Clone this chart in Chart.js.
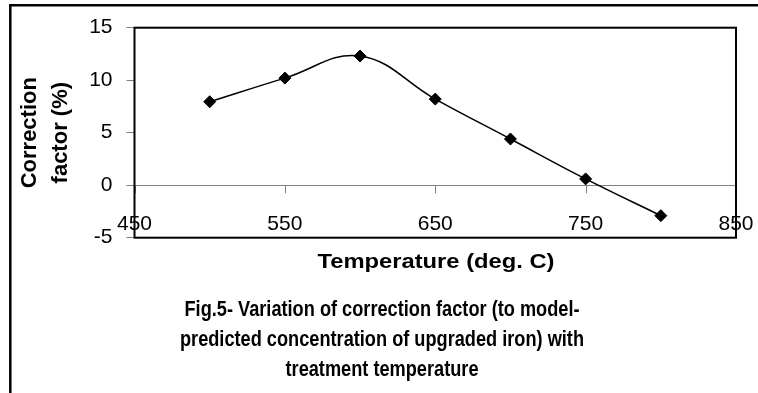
<!DOCTYPE html>
<html>
<head>
<meta charset="utf-8">
<script src="https://cdn.jsdelivr.net/npm/chart.js@4.4.1/dist/chart.umd.min.js"></script>
<style>
  html, body { margin: 0; padding: 0; background: #fff; }
  canvas { display: block; }
</style>
</head>
<body>
<canvas id="chart" width="758" height="393"></canvas>
<script>
const temperatures = [500, 550, 600, 650, 700, 750, 800];
const correctionFactor = [7.95, 10.2, 12.3, 8.2, 4.4, 0.6, -2.9];
const xTicks = [450, 550, 650, 750, 850];
const yAxisTitle = ['Correction', 'factor (%)'];
const xAxisTitle = 'Temperature (deg. C)';
const caption = [
    'Fig.5- Variation of correction factor (to model-',
    'predicted concentration of upgraded iron) with',
    'treatment temperature'
];

const FONT = '"Liberation Sans", Arial, Helvetica, sans-serif';

// draw text squeezed/stretched horizontally around its centre
function drawStretched(ctx, text, cx, y, scaleX) {
    ctx.save();
    ctx.translate(cx, y);
    ctx.scale(scaleX, 1);
    ctx.fillText(text, 0, 0);
    ctx.restore();
}

const decorations = {
    id: 'decorations',
    beforeDatasetsDraw(chart) {
        const ctx = chart.ctx;
        const area = chart.chartArea;
        const x = chart.scales.x;
        const y0 = chart.scales.y.getPixelForValue(0);
        ctx.save();
        ctx.strokeStyle = '#808080';
        ctx.lineWidth = 1;
        ctx.beginPath();
        ctx.moveTo(area.left, Math.round(y0) + 0.5);
        ctx.lineTo(area.right, Math.round(y0) + 0.5);
        xTicks.forEach(t => {
            const px = Math.round(x.getPixelForValue(t)) + 0.5;
            ctx.moveTo(px, y0);
            ctx.lineTo(px, y0 + 8);
        });
        ctx.stroke();
        ctx.restore();
    },
    afterDraw(chart) {
        const ctx = chart.ctx;
        const area = chart.chartArea;
        const x = chart.scales.x;
        ctx.save();

        // plot area box
        ctx.strokeStyle = '#000';
        ctx.lineWidth = 2;
        ctx.strokeRect(area.left, area.top, area.right - area.left, area.bottom - area.top);

        // x tick labels (they sit inside the plot, like the original)
        ctx.fillStyle = '#000';
        ctx.font = '21px ' + FONT;
        ctx.textAlign = 'center';
        ctx.textBaseline = 'alphabetic';
        xTicks.forEach(t => {
            ctx.fillText(String(t), x.getPixelForValue(t), 230);
        });

        // x axis title
        ctx.font = 'bold 21px ' + FONT;
        const tw = ctx.measureText(xAxisTitle).width;
        drawStretched(ctx, xAxisTitle, 436, 268, 237 / tw);

        // caption, narrow bold
        ctx.font = 'bold 22px ' + FONT;
        const cw = ctx.measureText(caption[0]).width;
        const squeeze = 395 / cw;
        const baselines = [315.5, 346, 376];
        caption.forEach((line, i) => drawStretched(ctx, line, 382, baselines[i], squeeze));

        // outer frame (open at right and bottom)
        ctx.lineWidth = 2.5;
        ctx.beginPath();
        ctx.moveTo(10.3, 393);
        ctx.lineTo(10.3, 5.3);
        ctx.lineTo(758, 5.3);
        ctx.stroke();

        ctx.restore();
    }
};

new Chart(document.getElementById('chart'), {
    type: 'scatter',
    data: {
        datasets: [{
            data: temperatures.map((t, i) => ({ x: t, y: correctionFactor[i] })),
            showLine: true,
            borderColor: '#000',
            borderWidth: 1.5,
            backgroundColor: '#000',
            tension: 0.4,
            pointStyle: 'rectRot',
            pointRadius: 6,
            pointBorderWidth: 1,
            pointBackgroundColor: '#000',
            pointBorderColor: '#000'
        }]
    },
    options: {
        responsive: false,
        animation: false,
        events: [],
        layout: {
            padding: { left: 10, top: 27.7, right: 22, bottom: 155.3 }
        },
        plugins: {
            legend: { display: false },
            tooltip: { enabled: false }
        },
        scales: {
            x: {
                type: 'linear',
                min: 450,
                max: 850,
                display: false
            },
            y: {
                min: -5,
                max: 15,
                ticks: {
                    stepSize: 5,
                    color: '#000',
                    padding: 14,
                    font: { family: FONT, size: 21 }
                },
                grid: {
                    drawOnChartArea: false,
                    drawTicks: true,
                    tickLength: 8,
                    color: '#808080'
                },
                border: { display: false },
                title: {
                    display: true,
                    text: yAxisTitle,
                    color: '#000',
                    padding: { top: 5, bottom: 0 },
                    font: { family: FONT, size: 22, weight: 'bold', lineHeight: 1.4 }
                },
                afterFit(scale) {
                    scale.width = 124.5;
                }
            }
        }
    },
    plugins: [decorations]
});
</script>
</body>
</html>
